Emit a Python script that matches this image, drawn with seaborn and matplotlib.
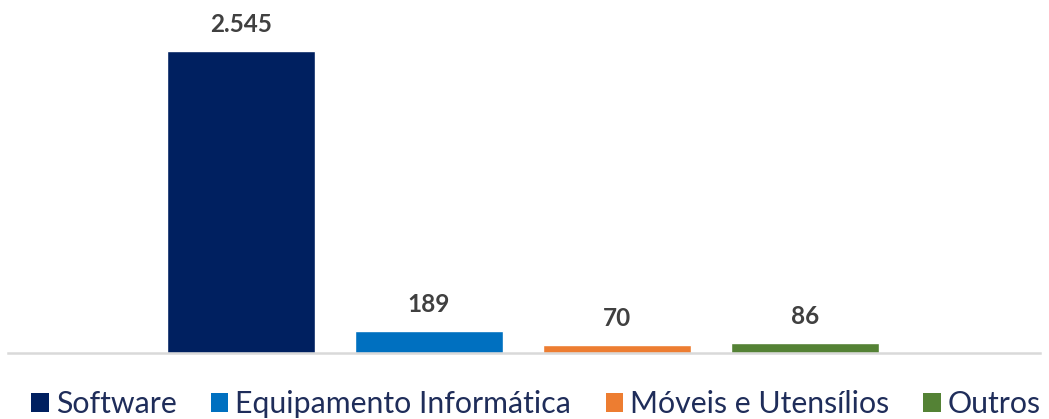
import matplotlib
matplotlib.use("Agg")
import matplotlib.pyplot as plt
import seaborn as sns
import pandas as pd
from matplotlib.patches import Patch

categories = ["Software", "Equipamento Informática", "Móveis e Utensílios", "Outros"]
values = [2545, 189, 70, 86]
labels = ["2.545", "189", "70", "86"]
colors = ["#002060", "#0070C0", "#ED7D31", "#548235"]

sns.set_theme(style="white")
plt.rcParams["font.family"] = ["Lato", "DejaVu Sans"]

W, H = 1049, 419
fig = plt.figure(figsize=(W / 100, H / 100), dpi=100)
ax = fig.add_axes([8 / W, 1 - 353 / H, (1040 - 8) / W, (353 - 10) / H])

df = pd.DataFrame({"cat": categories, "val": values})
sns.barplot(data=df, x="cat", y="val", hue="cat", palette=colors,
            dodge=False, width=148 / 188, saturation=1, legend=False, ax=ax)

px_per_unit = (353 - 51) / 2545
ax.set_ylim(0, 343 / px_per_unit)
ax.set_xlim((8 - 241) / 188, (1040 - 241) / 188)

for i, (v, lab) in enumerate(zip(values, labels)):
    ax.annotate(lab, (i, v), xytext=(0, 10.5), textcoords="offset points",
                ha="center", va="bottom", fontsize=17.5, fontweight="bold",
                color="#404040")

for s in ["top", "right", "left"]:
    ax.spines[s].set_visible(False)
ax.spines["bottom"].set_color("#D9D9D9")
ax.spines["bottom"].set_linewidth(1.8)
ax.set_xticks([])
ax.set_yticks([])
ax.set_xlabel("")
ax.set_ylabel("")

handles = [Patch(facecolor=c, edgecolor="none") for c in colors]
leg = fig.legend(handles, categories, loc="center", bbox_to_anchor=(536 / W, 1 - 404 / H),
                 ncol=4, frameon=False, fontsize=21.8, handlelength=0.57, handleheight=0.6,
                 handletextpad=0.23, columnspacing=1.14, borderaxespad=0, borderpad=0)
for t in leg.get_texts():
    t.set_color("#1F2D5A")

fig.savefig("out.png", dpi=100)
